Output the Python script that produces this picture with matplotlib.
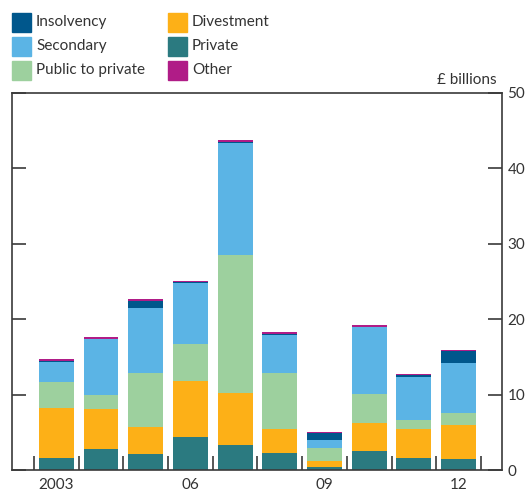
import matplotlib
matplotlib.use("Agg")
import matplotlib.pyplot as plt
from matplotlib.patches import Rectangle
import numpy as np

plt.rcParams['font.family'] = ['Lato', 'DejaVu Sans']

years = ['2003', '2004', '2005', '2006', '2007', '2008', '2009', '2010', '2011', '2012']
xlabels = ['2003', '', '', '06', '', '', '09', '', '', '12']

private = [1.63, 2.82, 2.16, 4.32, 3.26, 2.30, 0.44, 2.56, 1.63, 1.50]
divestment = [6.63, 5.30, 3.58, 7.43, 6.90, 3.18, 0.70, 3.62, 3.85, 4.51]
public_to_private = [3.40, 1.86, 7.07, 5.00, 18.30, 7.43, 1.82, 3.94, 1.19, 1.59]
secondary = [2.70, 7.33, 8.71, 8.09, 14.90, 5.00, 1.06, 8.80, 5.61, 6.63]
insolvency = [0.10, 0.13, 0.93, 0.13, 0.13, 0.18, 0.84, 0.10, 0.32, 1.59]
other = [0.20, 0.22, 0.27, 0.13, 0.27, 0.27, 0.13, 0.22, 0.17, 0.13]

series = [
    ('Private', private, '#2b7a80'),
    ('Divestment', divestment, '#fdb017'),
    ('Public to private', public_to_private, '#9dd09e'),
    ('Secondary', secondary, '#5bb4e5'),
    ('Insolvency', insolvency, '#00578c'),
    ('Other', other, '#b01c87'),
]
colors = {name: c for name, _, c in series}

fig = plt.figure(figsize=(5.28, 4.92), dpi=100)
ax = fig.add_axes([12/528, 1-470/492, 490/528, 377/492])

x = np.arange(len(years))
bottom = np.zeros(len(years))
for name, vals, c in series:
    ax.bar(x, vals, 0.78, bottom=bottom, color=c, linewidth=0, zorder=2)
    bottom += np.array(vals)

ax.set_xlim(-0.99, 9.97)
ax.set_ylim(0, 50)

spine_col = '#3a3a3a'
for s in ax.spines.values():
    s.set_color(spine_col)
    s.set_linewidth(1.2)

ax.yaxis.tick_right()
ax.set_yticks([0, 10, 20, 30, 40, 50])
ax.tick_params(axis='y', which='major', direction='in', length=10, width=1.2,
               color=spine_col, left=True, right=True, labelleft=False,
               labelright=True, labelsize=11, labelcolor='#333333', pad=4)
ax.set_xticks(x)
ax.set_xticklabels(xlabels)
ax.set_xticks(np.arange(-0.5, 10, 1), minor=True)
ax.tick_params(axis='x', which='major', length=0, labelsize=11,
               labelcolor='#333333', pad=6)
ax.tick_params(axis='x', which='minor', direction='in', length=10, width=1.2,
               color=spine_col)

fig.text(497/528, 1-80/492, '£ billions', ha='right', va='center',
         fontsize=11, color='#333333')

legend_items = [
    ('Insolvency', 12, 22), ('Secondary', 12, 46), ('Public to private', 12, 70),
    ('Divestment', 168, 22), ('Private', 168, 46), ('Other', 168, 70),
]
for name, px, py in legend_items:
    fig.patches.append(Rectangle((px/528, 1-(py+9.5)/492), 19/528, 19/492,
                                 transform=fig.transFigure, color=colors[name]))
    fig.text((px+24)/528, 1-py/492, name, ha='left', va='center',
             fontsize=11, color='#333333')

fig.savefig('out.png', dpi=100)
